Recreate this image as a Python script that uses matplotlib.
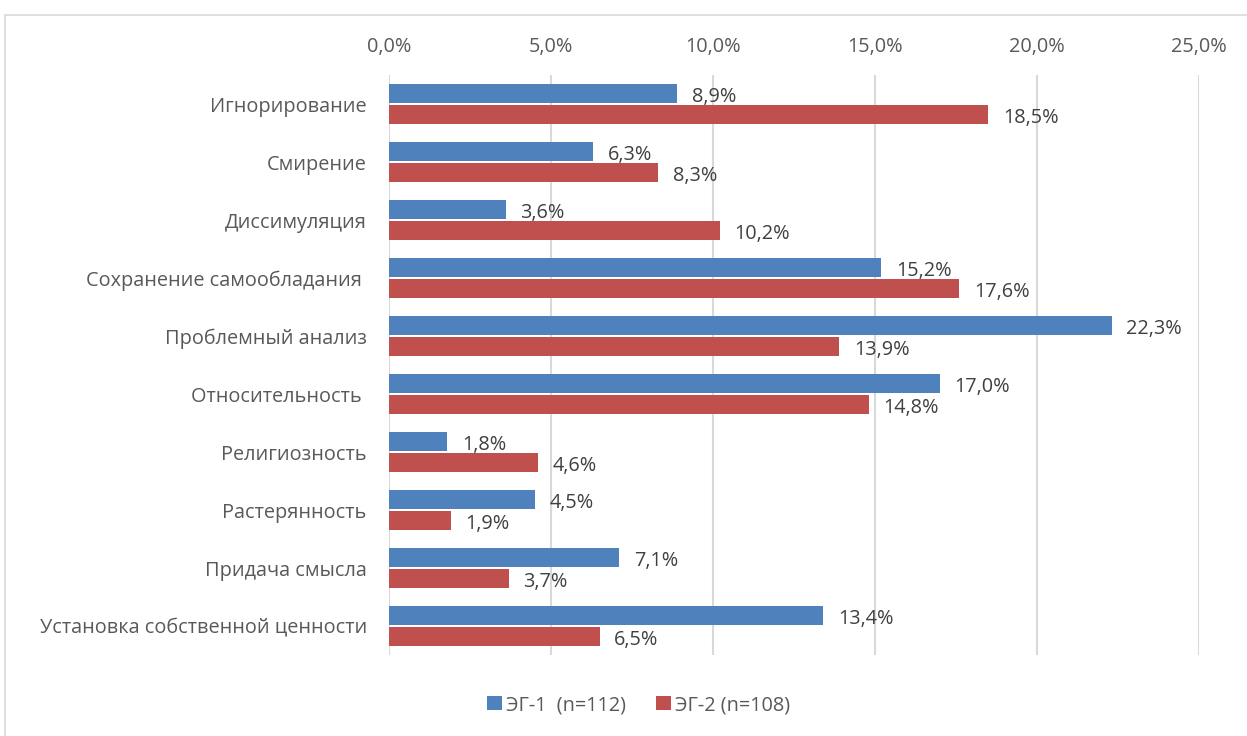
import numpy as np
import matplotlib.pyplot as plt
from matplotlib.patches import Rectangle
from matplotlib.ticker import FuncFormatter

categories = [
    "Игнорирование",
    "Смирение",
    "Диссимуляция",
    "Сохранение самообладания ",
    "Проблемный анализ",
    "Относительность ",
    "Религиозность",
    "Растерянность",
    "Придача смысла",
    "Установка собственной ценности",
]
eg1 = [8.9, 6.3, 3.6, 15.2, 22.3, 17.0, 1.8, 4.5, 7.1, 13.4]
eg2 = [18.5, 8.3, 10.2, 17.6, 13.9, 14.8, 4.6, 1.9, 3.7, 6.5]
series_names = ["ЭГ-1  (n=112)", "ЭГ-2 (n=108)"]

blue = "#4F81BD"
red = "#C0504D"
text_color = "#595959"
fs = 14.3

plt.rcParams["font.family"] = ["Open Sans", "DejaVu Sans"]

fig = plt.figure(figsize=(12.47, 7.36), dpi=100)
ax = fig.add_axes([0.312, 0.110, 0.6495, 0.788])

y = np.arange(len(categories))
h = 0.33
b1 = ax.barh(y - h / 2 - 0.02, eg1, height=h, color=blue, label=series_names[0])
b2 = ax.barh(y + h / 2 + 0.02, eg2, height=h, color=red, label=series_names[1])

for bars, vals in ((b1, eg1), (b2, eg2)):
    for bar, v in zip(bars, vals):
        ax.text(v + 0.45, bar.get_y() + bar.get_height() / 2 + 0.06,
                f"{v:.1f}%".replace(".", ","), va="center", ha="left",
                fontsize=fs, color="#404040")

ax.set_xlim(0, 25)
ax.set_ylim(len(categories) - 0.5, -0.5)
ax.set_xticks(np.arange(0, 26, 5))
ax.xaxis.set_major_formatter(FuncFormatter(lambda v, p: f"{v:.1f}%".replace(".", ",")))
ax.xaxis.tick_top()
ax.set_yticks(y)
ax.set_yticklabels(categories)
ax.tick_params(axis="x", length=0, pad=13, labelsize=fs, colors=text_color)
ax.tick_params(axis="y", length=0, pad=16, labelsize=fs, colors=text_color)
ax.grid(axis="x", color="#D9D9D9", linewidth=1.5)
ax.set_axisbelow(True)
for s in ax.spines.values():
    s.set_visible(False)

fig.legend(loc="center", bbox_to_anchor=(0.512, 0.042), ncol=2, frameon=False,
           fontsize=fs, handlelength=0.75, handleheight=0.75, handletextpad=0.2,
           columnspacing=1.5, labelcolor=text_color)

fig.patches.append(Rectangle((0.004, -0.01), 1.0, 0.99, transform=fig.transFigure,
                             fill=False, edgecolor="#D9D9D9", linewidth=1.2))

fig.savefig("out.png", dpi=100)
